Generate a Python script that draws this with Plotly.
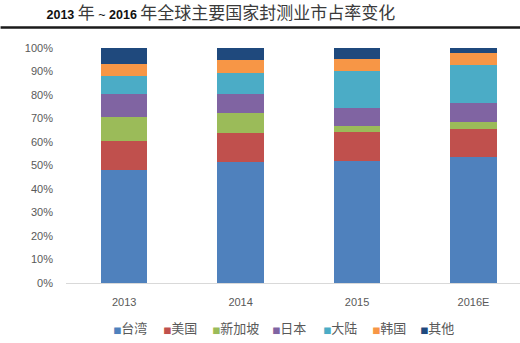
import plotly.graph_objects as go

years = ["2013", "2014", "2015", "2016E"]
series_names = ["台湾", "美国", "新加坡", "日本", "大陆", "韩国", "其他"]
taiwan = [48.2, 51.4, 51.9, 53.8]
usa = [12.2, 12.3, 12.2, 11.7]
singapore = [10.1, 8.5, 2.8, 3.1]
japan = [9.8, 8.1, 7.7, 7.8]
mainland = [7.7, 9.1, 15.8, 16.3]
korea = [5.1, 5.7, 4.8, 5.0]
others = [6.9, 4.9, 4.8, 2.3]
series_values = [taiwan, usa, singapore, japan, mainland, korea, others]
colors = ["#4F81BD", "#C0504D", "#9BBB59", "#8064A2", "#4BACC6", "#F79646", "#1F497D"]
legend_widths = [5, 4, 15, 6, 4, 3, 40]
ytick_vals = [i / 10 for i in range(11)]
ytick_text = [f"{i*10}%" for i in range(11)]

fig = go.Figure()
for name, vals, c in zip(series_names, series_values, colors):
    fig.add_trace(go.Bar(x=years, y=[v / 100 for v in vals], name=name,
                         marker=dict(color=c, line=dict(width=0)),
                         width=0.4, showlegend=False))
for name, c, lw in zip(series_names, colors, legend_widths):
    fig.add_trace(go.Scatter(x=[None], y=[None], mode="markers",
                             marker=dict(color="rgba(0,0,0,0)", size=1),
                             name=f"<span style='color:{c};font-family:DejaVu Sans;font-size:8.5px'>■</span>{name}",
                             legendwidth=lw, showlegend=True))

W, H = 520, 343
ml, mr, mt, mb = 65.5, 0, 47.5, 59.7
pw = W - ml - mr
ph = H - mt - mb

cjk = "font-family:Noto Sans CJK SC;font-size:17px;color:#3a3a3a"
fig.update_layout(
    width=W, height=H,
    margin=dict(l=ml, r=mr, t=mt, b=mb, pad=0),
    paper_bgcolor="white", plot_bgcolor="white",
    barmode="stack",
    font=dict(family="Liberation Sans, Noto Sans CJK SC", size=11, color="#595959"),
    title=dict(
        text=f"<b>2013</b> <span style='{cjk}'>年</span> ~ <b>2016</b> <span style='{cjk}'>年全球主要国家封测业市占率变化</span>",
        x=46.5 / W, xanchor="left",
        y=1 - 15 / H, yanchor="middle", yref="container",
        font=dict(family="Liberation Sans", size=12.5, color="#111111"),
    ),
    xaxis=dict(type="category", range=[-0.5, (W - ml) / (pw / 3.9) - 0.5],
               showline=True, linecolor="#D9D9D9", linewidth=1,
               showgrid=False, ticks="", ticklabelstandoff=9,
               tickfont=dict(size=11, color="#595959")),
    yaxis=dict(range=[0, 1], tickvals=ytick_vals, ticktext=ytick_text,
               showgrid=False, zeroline=False, showline=False, ticks="",
               ticklabelstandoff=12, tickfont=dict(size=11, color="#595959")),
    legend=dict(orientation="h", x=(72.7 - ml) / pw, xanchor="left",
                y=-(328 - (H - mb)) / ph, yanchor="middle", traceorder="normal",
                font=dict(family="Noto Sans CJK SC", size=13, color="#595959"),
                bgcolor="rgba(0,0,0,0)"),
    shapes=[dict(type="line", xref="paper", yref="paper",
                 x0=-ml / pw, x1=(W - ml) / pw, y0=(H - mb - 27) / ph, y1=(H - mb - 27) / ph,
                 line=dict(color="#1a1a1a", width=2.5))],
)
fig.write_html("out.html")
